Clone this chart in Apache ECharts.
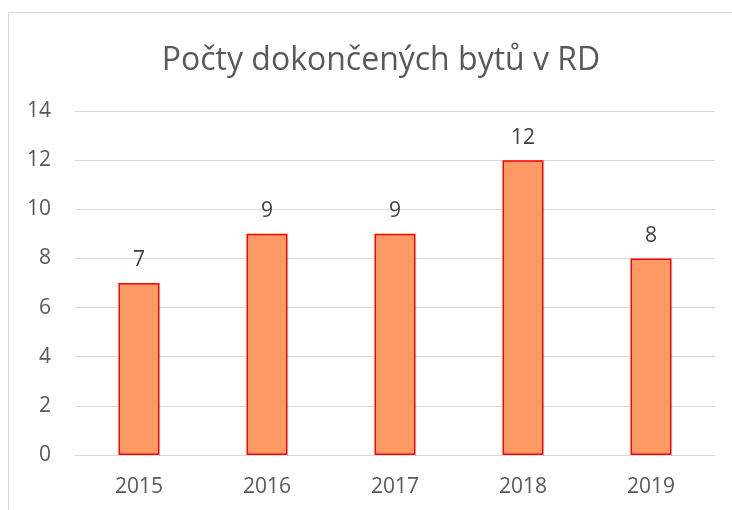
<!DOCTYPE html>
<html>
<head>
<meta charset="utf-8">
<script src="https://cdn.jsdelivr.net/npm/echarts@6/dist/echarts.min.js"></script>
<style>
  html, body { margin: 0; padding: 0; background: #fff; }
  #chart { width: 732px; height: 510px; }
</style>
</head>
<body>
<div id="chart"></div>
<script>
var years = ['2015', '2016', '2017', '2018', '2019']
var counts = [7, 9, 9, 12, 8]
var chartTitle = 'Počty dokončených bytů v RD'

var myChart = echarts.init(document.getElementById('chart'))
var fontName = '"Open Sans", "Noto Sans", sans-serif'

myChart.setOption({
    backgroundColor: '#fff',
    animation: false,
    title: {
        text: chartTitle,
        left: 376,
        textAlign: 'center',
        top: 40,
        textStyle: { fontFamily: fontName, fontSize: 32, fontWeight: 'normal', color: '#595959' }
    },
    graphic: [{
        type: 'rect',
        shape: { x: 8.5, y: 12.5, width: 760, height: 520 },
        style: { fill: 'none', stroke: '#d9d9d9', lineWidth: 1 },
        silent: true
    }],
    grid: { left: 75, right: 17, top: 111, bottom: 55 },
    xAxis: {
        type: 'category',
        data: years,
        axisLine: { lineStyle: { color: '#d9d9d9', width: 1 } },
        axisTick: { show: false },
        axisLabel: { fontFamily: fontName, fontSize: 21, color: '#595959', margin: 22 }
    },
    yAxis: {
        type: 'value',
        min: 0,
        max: 14,
        interval: 2,
        axisLine: { show: false },
        axisTick: { show: false },
        splitLine: { lineStyle: { color: '#d9d9d9', width: 1 } },
        axisLabel: { fontFamily: fontName, fontSize: 21, color: '#595959', margin: 24 }
    },
    series: [{
        type: 'bar',
        data: counts,
        barWidth: 41,
        itemStyle: { color: '#ff9966', borderColor: '#ff0000', borderWidth: 1.5 },
        label: {
            show: true,
            position: 'top',
            distance: 12,
            fontFamily: fontName,
            fontSize: 21,
            color: '#404040'
        }
    }]
})
</script>
</body>
</html>
